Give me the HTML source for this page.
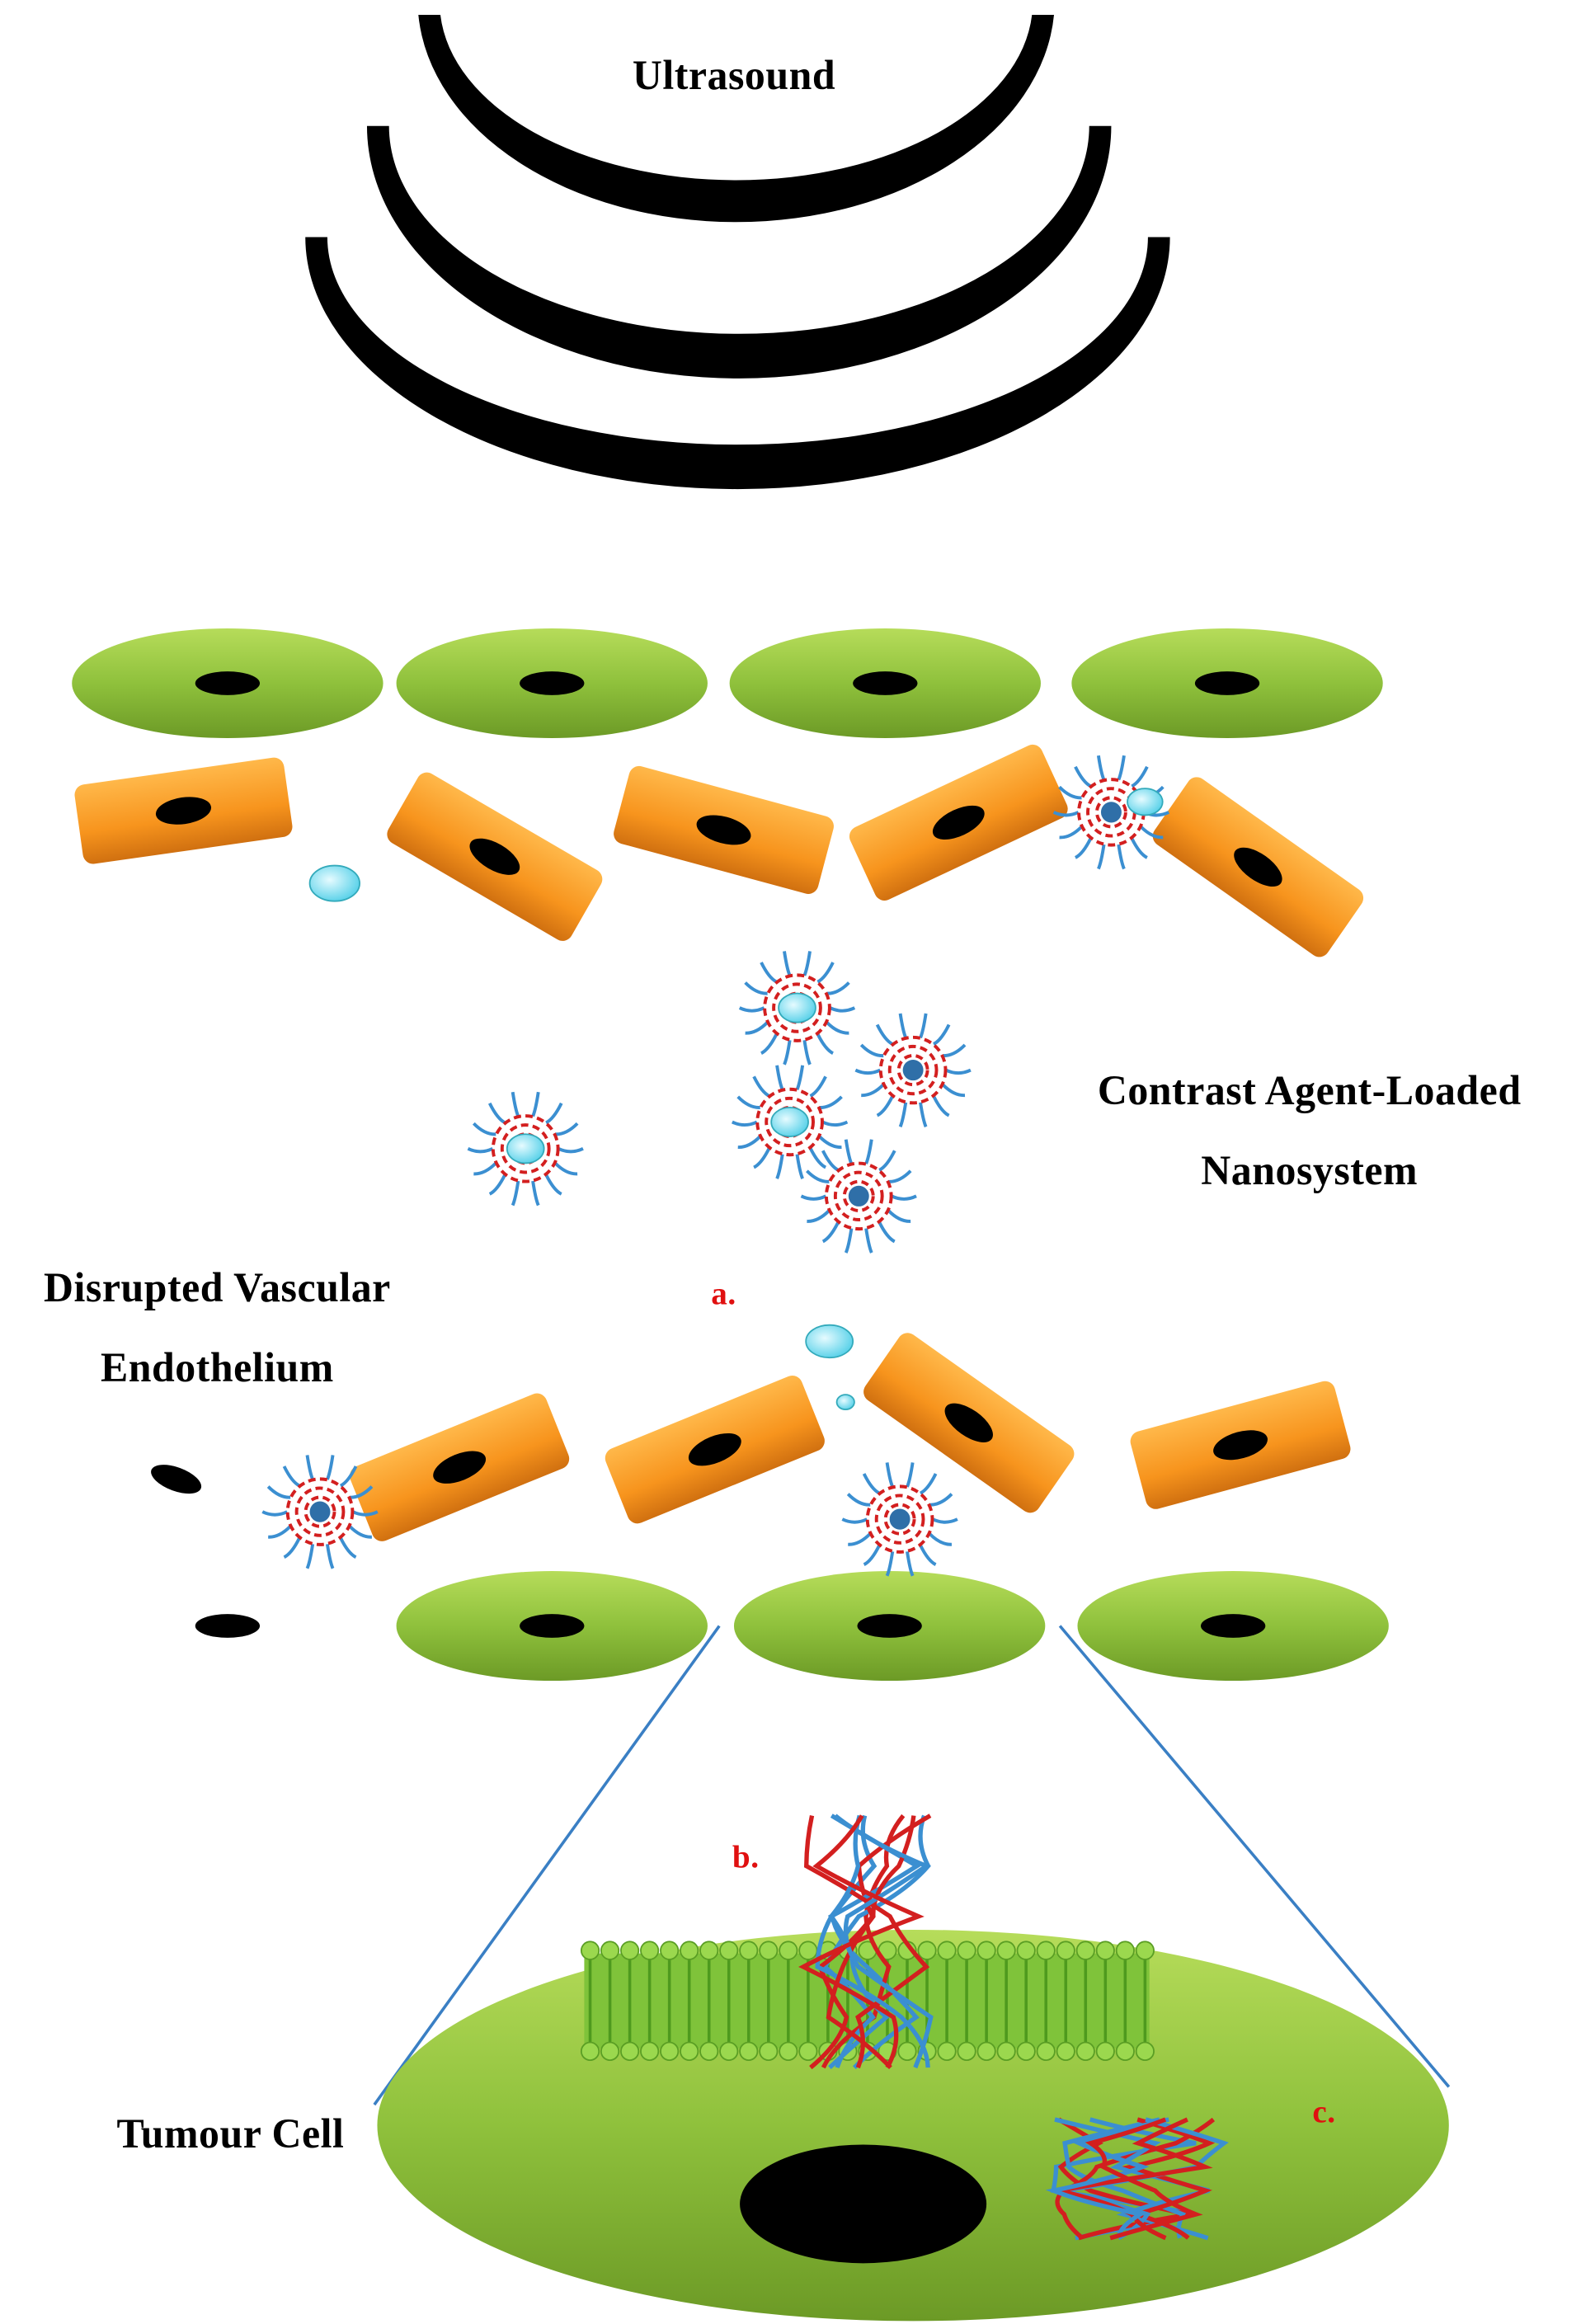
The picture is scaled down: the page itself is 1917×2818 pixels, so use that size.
<!DOCTYPE html>
<html><head><meta charset="utf-8"><style>
html,body{margin:0;padding:0;background:#fff;}
svg{display:block;}
text{font-family:"Liberation Serif",serif;font-weight:bold;letter-spacing:0.3px;}
</style></head><body>
<svg id="s" width="1917" height="2818" viewBox="0 0 1077 1568" preserveAspectRatio="none" xmlns="http://www.w3.org/2000/svg">
<defs>
<linearGradient id="gg" x1="0" y1="0" x2="0" y2="1"><stop offset="0" stop-color="#b6dc5a"/><stop offset="0.5" stop-color="#8fc13c"/><stop offset="1" stop-color="#6c9a26"/></linearGradient>
<linearGradient id="og" x1="0" y1="0" x2="0" y2="1"><stop offset="0" stop-color="#ffb84a"/><stop offset="0.6" stop-color="#f7941d"/><stop offset="1" stop-color="#d07010"/></linearGradient>
<radialGradient id="cg" cx="0.4" cy="0.4" r="0.6"><stop offset="0" stop-color="#e6fbff"/><stop offset="1" stop-color="#5fd3ea"/></radialGradient>
</defs>
<path d="M285,10 A217,150 0 0 0 718,10 L703,10 A202,120 0 0 1 300,10Z" fill="#000"/>
<path d="M250,85 A253,170 0 0 0 757,85 L742,85 A238,140 0 0 1 265,85Z" fill="#000"/>
<path d="M208,160 A294.5,170 0 0 0 797,160 L782,160 A279.5,140 0 0 1 223,160Z" fill="#000"/>
<text x="500" y="60" font-size="28" text-anchor="middle">Ultrasound</text>
<g id="cells"></g>
<line x1="490" y1="1097" x2="255" y2="1420" stroke="#3a7fc4" stroke-width="2"/>
<line x1="722" y1="1097" x2="987" y2="1408" stroke="#3a7fc4" stroke-width="2"/>
<ellipse cx="622" cy="1434" rx="365" ry="132" fill="url(#gg)"/>
<ellipse cx="588" cy="1487" rx="84" ry="40" fill="#000"/>
<g id="mem"></g>
<g id="np"></g>
<text x="892" y="745" font-size="28" text-anchor="middle">Contrast Agent-Loaded</text>
<text x="892" y="799" font-size="28" text-anchor="middle">Nanosystem</text>
<text x="148" y="878" font-size="28" text-anchor="middle">Disrupted Vascular</text>
<text x="148" y="932" font-size="28" text-anchor="middle">Endothelium</text>
<text x="157" y="1449" font-size="28" text-anchor="middle">Tumour Cell</text>
<text x="493" y="880" font-size="22" fill="#e01010" text-anchor="middle">a.</text>
<text x="508" y="1260" font-size="22" fill="#e01010" text-anchor="middle">b.</text>
<text x="902" y="1432" font-size="22" fill="#e01010" text-anchor="middle">c.</text>
</svg>
<script>
var NS="http://www.w3.org/2000/svg";
function el(p,t,a){var e=document.createElementNS(NS,t);for(var k in a)e.setAttribute(k,a[k]);p.appendChild(e);return e;}
var cells=document.getElementById('cells');
[[155,461],[376,461],[603,461],[836,461],[376,1097],[606,1097],[840,1097]].forEach(function(c){
 el(cells,'ellipse',{cx:c[0],cy:c[1],rx:106,ry:37,fill:'url(#gg)'});
 el(cells,'ellipse',{cx:c[0],cy:c[1],rx:22,ry:8,fill:'#000'});
});
[[125,547,-8],[337,578,30],[493,560,15],[653,555,-25],[857,585,35],[313,990,-22],[487,978,-22],[660,960,35],[845,975,-15]].forEach(function(c){
 var g=el(cells,'g',{transform:'translate('+c[0]+','+c[1]+') rotate('+c[2]+')'});
 el(g,'rect',{x:-72,y:-27,width:144,height:54,rx:7,fill:'url(#og)'});
 el(g,'ellipse',{cx:0,cy:0,rx:19,ry:9,fill:'#000'});
});
el(cells,'ellipse',{cx:120,cy:998,rx:18,ry:8,fill:'#000',transform:'rotate(20 120 998)'});
el(cells,'ellipse',{cx:155,cy:1097,rx:22,ry:8,fill:'#000'});
var m=document.getElementById('mem');
el(m,'rect',{x:398,y:1318,width:385,height:64,fill:'#7fc33a'});
for(var x=402;x<=780;x+=13.5){
 el(m,'line',{x1:x,y1:1318,x2:x,y2:1382,stroke:'#4e9a1e','stroke-width':2});
 el(m,'circle',{cx:x,cy:1316,r:6,fill:'#9bd84e',stroke:'#5a9e24','stroke-width':1});
 el(m,'circle',{cx:x,cy:1384,r:6,fill:'#9bd84e',stroke:'#5a9e24','stroke-width':1});
}
var np=document.getElementById('np');
function nano(cx,cy,r,cyan){
 var g=el(np,'g',{});
 for(var i=0;i<14;i++){var a=i/14*Math.PI*2;var x1=cx+Math.cos(a)*r*0.8,y1=cy+Math.sin(a)*r*0.8,x2=cx+Math.cos(a)*r*1.4,y2=cy+Math.sin(a)*r*1.4;
  el(g,'path',{d:'M'+x1+','+y1+' Q'+(x1+x2)/2+','+((y1+y2)/2+4)+' '+x2+','+y2,stroke:'#3b8fd1','stroke-width':2.2,fill:'none'});}
 for(var j=0;j<3;j++){el(g,'circle',{cx:cx,cy:cy,r:r*(0.35+j*0.22),fill:'none',stroke:'#d31f1f','stroke-width':2.2,'stroke-dasharray':'5 3'});}
 el(g,'circle',{cx:cx,cy:cy,r:r*0.25,fill:'#2f6fa8'});
 if(cyan)el(g,'ellipse',{cx:cx,cy:cy,rx:r*0.45,ry:r*0.35,fill:'url(#cg)',stroke:'#3ab',"stroke-width":1});
}
[[543,680,1],[622,722,0],[538,757,1],[585,807,0],[358,775,1],[757,548,0],[218,1020,0],[613,1025,0]].forEach(function(c){nano(c[0],c[1],28,c[2]);});
[[228,596,17,12],[780,541,12,9],[565,905,16,11],[576,946,6,5]].forEach(function(c){el(np,'ellipse',{cx:c[0],cy:c[1],rx:c[2],ry:c[3],fill:'url(#cg)',stroke:'#3ab','stroke-width':1});});
var seed=7;function rnd(){seed=(seed*9301+49297)%233280;return seed/233280;}
function strands(cx,cy,w,h,n){for(var i=0;i<n;i++){var col=i%2?'#d31f1f':'#3b8fd1';var px=cx-w/2+rnd()*w,py=cy-h/2;var d='M'+px+','+py;for(var k=1;k<=5;k++){var nx=cx-w/2+rnd()*w,ny=cy-h/2+k*h/5;var qx=(px+nx)/2+(rnd()*20-10);d+=' Q'+qx+','+((py+ny)/2)+' '+nx+','+ny;px=nx;py=ny;}el(np,'path',{d:d,stroke:col,'stroke-width':3,fill:'none'});}}
strands(590,1310,90,170,10);
strands(775,1470,120,80,10);
</script>
</body></html>
